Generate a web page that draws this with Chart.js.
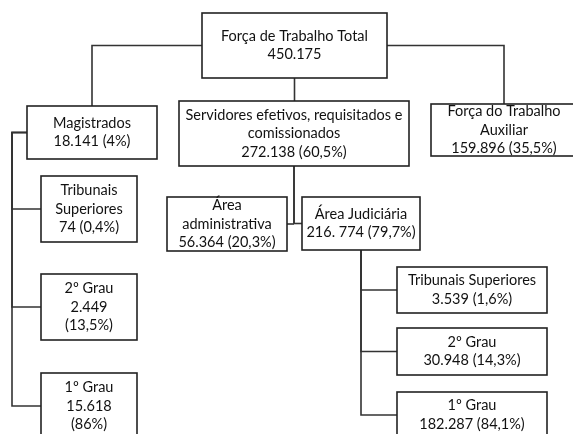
<!DOCTYPE html>
<html>
<head>
<meta charset="utf-8">
<script src="https://cdn.jsdelivr.net/npm/chart.js@4.4.1/dist/chart.umd.min.js"></script>
<style>
  html, body { margin: 0; padding: 0; background: #fff; }
  #wrap { width: 573px; height: 434px; }
</style>
</head>
<body>
<div id="wrap"><canvas id="orgChart"></canvas></div>
<script>
"use strict";

// values
let titles = [
  "Força de Trabalho Total",
  "Magistrados",
  "Servidores efetivos, requisitados e\ncomissionados",
  "Força do Trabalho\nAuxiliar",
  "Tribunais\nSuperiores",
  "2º Grau",
  "1º Grau",
  "Área\nadministrativa",
  "Área Judiciária",
  "Tribunais Superiores",
  "2º Grau",
  "1º Grau",
];
let counts = ["450.175", "18.141", "272.138", "159.896", "74", "2.449", "15.618", "56.364", "216. 774", "3.539", "30.948", "182.287"];
let shares = ["", "4%", "60,5%", "35,5%", "0,4%", "13,5%", "86%", "20,3%", "79,7%", "1,6%", "14,3%", "84,1%"];
let parents = [null, 0, 0, 0, 1, 1, 1, 2, 2, 8, 8, 8];

// box layout in page units (x, y = top left), kept apart from the data
let layout = [
  { x: 202, y: 13, w: 185, h: 65 },
  { x: 27, y: 106, w: 130, h: 53 },
  { x: 179, y: 101, w: 230, h: 65 },
  { x: 431, y: 104, w: 146, h: 52 },
  { x: 41, y: 176, w: 96, h: 66 },
  { x: 41, y: 274, w: 96, h: 66, split: true },
  { x: 41, y: 373, w: 96, h: 66, split: true },
  { x: 167, y: 197, w: 120, h: 54 },
  { x: 302, y: 197, w: 118, h: 53 },
  { x: 397, y: 267, w: 150, h: 46 },
  { x: 397, y: 328, w: 150, h: 47 },
  { x: 397, y: 392, w: 150, h: 46 },
];
let railLeft = 12;

function nodeLines(i) {
  let lines = titles[i].split("\n");
  let share = shares[i] ? "(" + shares[i] + ")" : "";
  if (layout[i].split) {
    lines.push(counts[i]);
    lines.push(share);
  } else {
    lines.push(share ? counts[i] + " " + share : counts[i]);
  }
  return lines;
}

let orgPlugin = {
  id: "orgBoxes",
  afterDatasetsDraw(chart) {
    let ctx = chart.ctx;
    let sx = chart.scales.x;
    let sy = chart.scales.y;
    let px = (v) => sx.getPixelForValue(v);
    let py = (v) => sy.getPixelForValue(v);

    function seg(points) {
      ctx.beginPath();
      points.forEach((p, k) => {
        if (k === 0) ctx.moveTo(px(p[0]), py(p[1]));
        else ctx.lineTo(px(p[0]), py(p[1]));
      });
      ctx.stroke();
    }

    ctx.save();
    ctx.strokeStyle = "#333";
    ctx.lineWidth = 1.6;

    // connectors
    parents.forEach((p, i) => {
      if (p === null) return;
      let a = layout[p];
      let b = layout[i];
      let acx = a.x + a.w / 2, acy = a.y + a.h / 2;
      let bcx = b.x + b.w / 2, bcy = b.y + b.h / 2;
      if (p === 0) {
        if (bcx < a.x) seg([[a.x, acy], [bcx, acy], [bcx, b.y]]);
        else if (bcx > a.x + a.w) seg([[a.x + a.w, acy], [bcx, acy], [bcx, b.y]]);
        else seg([[acx, a.y + a.h], [acx, b.y]]);
      } else if (p === 1) {
        seg([[a.x, acy], [railLeft, acy], [railLeft, bcy], [b.x, bcy]]);
      } else if (p === 2) {
        seg([[acx, a.y + a.h], [acx, bcy]]);
        if (bcx < acx) seg([[acx, bcy], [b.x + b.w, bcy]]);
        else seg([[acx, bcy], [b.x, bcy]]);
      } else {
        let rail = acx;
        seg([[rail, a.y + a.h], [rail, bcy], [b.x, bcy]]);
      }
    });

    // boxes and labels
    ctx.font = "14.5px Lato";
    ctx.textAlign = "center";
    ctx.textBaseline = "middle";
    layout.forEach((b, i) => {
      let x0 = px(b.x), y0 = py(b.y);
      let x1 = px(b.x + b.w), y1 = py(b.y + b.h);
      ctx.fillStyle = "#fff";
      ctx.fillRect(x0, y0, x1 - x0, y1 - y0);
      ctx.strokeStyle = "#222";
      ctx.strokeRect(x0, y0, x1 - x0, y1 - y0);
      let lines = nodeLines(i);
      let lh = 18.5;
      let cy = (y0 + y1) / 2 - ((lines.length - 1) * lh) / 2;
      ctx.fillStyle = "#111";
      lines.forEach((t, k) => ctx.fillText(t, (x0 + x1) / 2, cy + k * lh));
    });
    ctx.restore();
  },
};

let ctxOrg = document.getElementById("orgChart").getContext("2d");
let orgChart = new Chart(ctxOrg, {
  type: "scatter",
  data: {
    datasets: [
      {
        label: "Força de trabalho",
        data: layout.map((b, i) => ({ x: b.x + b.w / 2, y: b.y + b.h / 2, name: titles[i] })),
        pointRadius: 0,
      },
    ],
  },
  options: {
    responsive: true,
    maintainAspectRatio: false,
    animation: false,
    layout: { padding: 0 },
    plugins: { legend: { display: false }, tooltip: { enabled: false } },
    scales: {
      x: { type: "linear", min: 0, max: 573, display: false },
      y: { type: "linear", min: 0, max: 434, reverse: true, display: false },
    },
  },
  plugins: [orgPlugin],
});
</script>
</body>
</html>
